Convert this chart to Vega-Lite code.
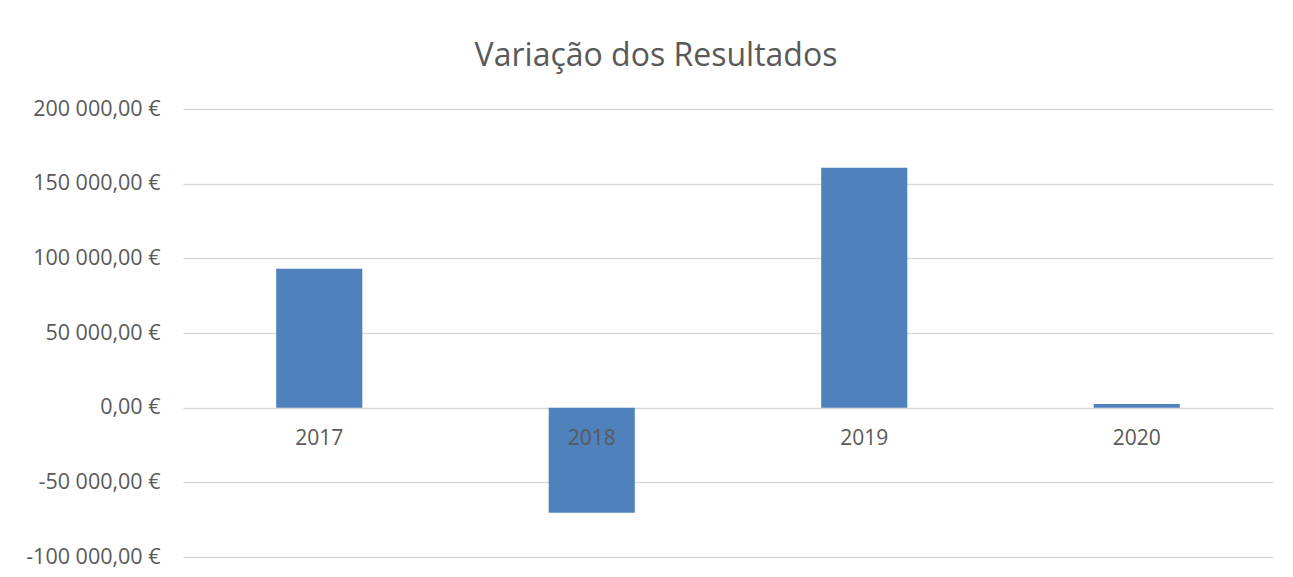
{
  "$schema": "https://vega.github.io/schema/vega-lite/v6.json",
  "width": 1090,
  "height": 448,
  "autosize": {"type": "none"},
  "padding": {"left": 183, "top": 109, "right": 20, "bottom": 20},
  "background": "white",
  "config": {
    "view": {"stroke": null},
    "font": "Open Sans",
    "locale": {
      "number": {
        "decimal": ",",
        "thousands": " ",
        "grouping": [3],
        "currency": ["", " €"],
        "minus": "-"
      }
    }
  },
  "title": {
    "text": "Variação dos Resultados",
    "font": "Open Sans",
    "fontSize": 32,
    "fontWeight": "normal",
    "color": "#595959",
    "anchor": "middle",
    "baseline": "alphabetic",
    "offset": 0,
    "dx": -72
  },
  "data": {
    "values": [
      {"ano": "2017", "resultado": 93000},
      {"ano": "2018", "resultado": -70300},
      {"ano": "2019", "resultado": 160600},
      {"ano": "2020", "resultado": 2500}
    ]
  },
  "encoding": {
    "x": {
      "field": "ano",
      "type": "nominal",
      "sort": null,
      "axis": null,
      "scale": {"paddingInner": 0.684, "paddingOuter": 0.342}
    }
  },
  "layer": [
    {
      "mark": {"type": "bar", "color": "#4f81bd"},
      "encoding": {
        "y": {
          "field": "resultado",
          "type": "quantitative",
          "scale": {"domain": [-100000, 200000], "nice": false, "zero": false},
          "axis": {
            "title": null,
            "values": [-100000, -50000, 0, 50000, 100000, 150000, 200000],
            "format": "$,.2f",
            "ticks": false,
            "domain": false,
            "labelPadding": 23,
            "labelFontSize": 21.5,
            "labelColor": "#595959",
            "labelFont": "Open Sans",
            "gridColor": "#d9d9d9",
            "gridWidth": 1.3
          }
        }
      }
    },
    {
      "mark": {"type": "text", "fontSize": 21, "color": "#595959", "baseline": "middle", "dy": 31, "font": "Open Sans"},
      "encoding": {
        "y": {"datum": 0, "type": "quantitative"},
        "text": {"field": "ano", "type": "nominal"}
      }
    }
  ]
}
